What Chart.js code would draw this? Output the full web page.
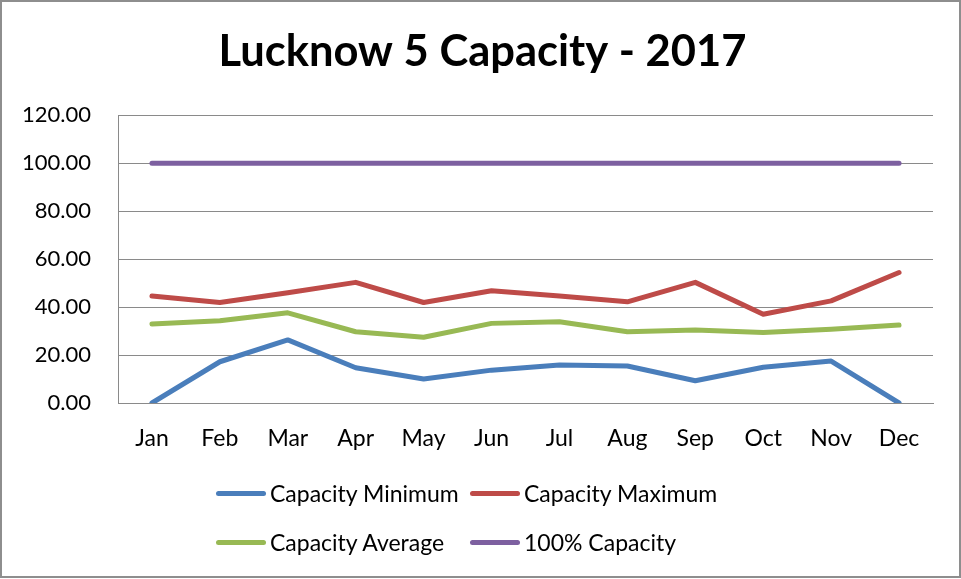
<!DOCTYPE html>
<html>
<head>
<meta charset="utf-8">
<script src="https://cdn.jsdelivr.net/npm/chart.js@4/dist/chart.umd.min.js"></script>
<style>
  body { margin: 0; background: #fff; }
  #wrap { position: relative; width: 961px; height: 579px; }
  #chartCanvas { position: absolute; left: 0; top: 0; }
  #frame { position: absolute; left: 0; top: 0; width: 961px; height: 578px; box-sizing: border-box; border: 2px solid #8e8e8e; pointer-events: none; }
  #legend { position: absolute; left: 216px; top: 478px; display: grid; grid-template-columns: 254px 260px; row-gap: 19px; font-family: Lato, sans-serif; font-size: 23px; color: #000; }
  .item { display: flex; align-items: center; height: 30px; white-space: nowrap; }
  .swatch { width: 50px; height: 5px; border-radius: 3px; margin-right: 4px; }
</style>
</head>
<body>
<div id="wrap">
  <canvas id="chartCanvas" width="961" height="579"></canvas>
  <div id="legend"></div>
  <div id="frame"></div>
</div>
<script>
// ********** DATA **********
var months = ['Jan', 'Feb', 'Mar', 'Apr', 'May', 'Jun', 'Jul', 'Aug', 'Sep', 'Oct', 'Nov', 'Dec'];
var capMin = [0, 17.2, 26.3, 14.7, 10.0, 13.7, 15.8, 15.4, 9.3, 14.9, 17.5, 0];
var capMax = [44.6, 41.9, 46.0, 50.3, 41.9, 46.8, 44.6, 42.2, 50.3, 37.0, 42.6, 54.4];
var capAvg = [32.9, 34.3, 37.6, 29.7, 27.4, 33.2, 33.9, 29.7, 30.4, 29.4, 30.7, 32.5];
var capFull = [100, 100, 100, 100, 100, 100, 100, 100, 100, 100, 100, 100];
var seriesNames = ['Capacity Minimum', 'Capacity Maximum', 'Capacity Average', '100% Capacity'];
var seriesColors = ['#4a7ebb', '#be4b48', '#98b954', '#7d60a0'];

var fontFamily = 'Lato, sans-serif';
var gridColor = '#8a8a8a';

function makeSet(i, values) {
    return {
        label: seriesNames[i],
        data: values,
        borderColor: seriesColors[i],
        backgroundColor: seriesColors[i],
        borderWidth: 5,
        borderCapStyle: 'round',
        borderJoinStyle: 'round',
        pointRadius: 0,
        tension: 0,
        fill: false
    };
}

// nudge the title a bit right so it is centred on the whole canvas
var titleShift = {
    id: 'titleShift',
    afterLayout: function(chart) {
        if (chart.titleBlock) {
            chart.titleBlock.left += 6;
            chart.titleBlock.right += 6;
        }
    }
};

var ctx = document.getElementById('chartCanvas').getContext('2d');
var chart = new Chart(ctx, {
    type: 'line',
    data: {
        labels: months,
        datasets: [
            makeSet(0, capMin),
            makeSet(1, capMax),
            makeSet(2, capAvg),
            makeSet(3, capFull)
        ]
    },
    plugins: [titleShift],
    options: {
        responsive: false,
        animation: false,
        layout: { padding: { left: 20, right: 28, top: 0, bottom: 116 } },
        plugins: {
            legend: { display: false },
            tooltip: { enabled: false },
            title: {
                display: true,
                text: 'Lucknow 5 Capacity - 2017',
                color: '#000',
                font: { family: fontFamily, size: 43.5, weight: 'bold' },
                padding: { top: 26, bottom: 37 }
            }
        },
        scales: {
            x: {
                offset: true,
                grid: { display: false },
                border: { display: true, color: gridColor, width: 1 },
                ticks: { color: '#000', font: { family: fontFamily, size: 23 }, padding: 14, maxRotation: 0 },
                afterFit: function(scale) { scale.height = 60; }
            },
            y: {
                min: 0,
                max: 120,
                ticks: {
                    stepSize: 20,
                    color: '#000',
                    font: { family: fontFamily, size: 22 },
                    padding: 27,
                    callback: function(v) { return v.toFixed(2); }
                },
                grid: { color: gridColor, lineWidth: 1, drawTicks: false },
                border: { display: true, color: gridColor, width: 1 },
                afterFit: function(scale) { scale.width = 98; }
            }
        }
    }
});

//Legend below the chart, two per row like the original
var legendBox = document.getElementById('legend');
chart.data.datasets.forEach(function(ds) {
    var item = document.createElement('div');
    item.className = 'item';
    var sw = document.createElement('span');
    sw.className = 'swatch';
    sw.style.background = ds.borderColor;
    var txt = document.createElement('span');
    txt.textContent = ds.label;
    item.appendChild(sw);
    item.appendChild(txt);
    legendBox.appendChild(item);
});
</script>
</body>
</html>
